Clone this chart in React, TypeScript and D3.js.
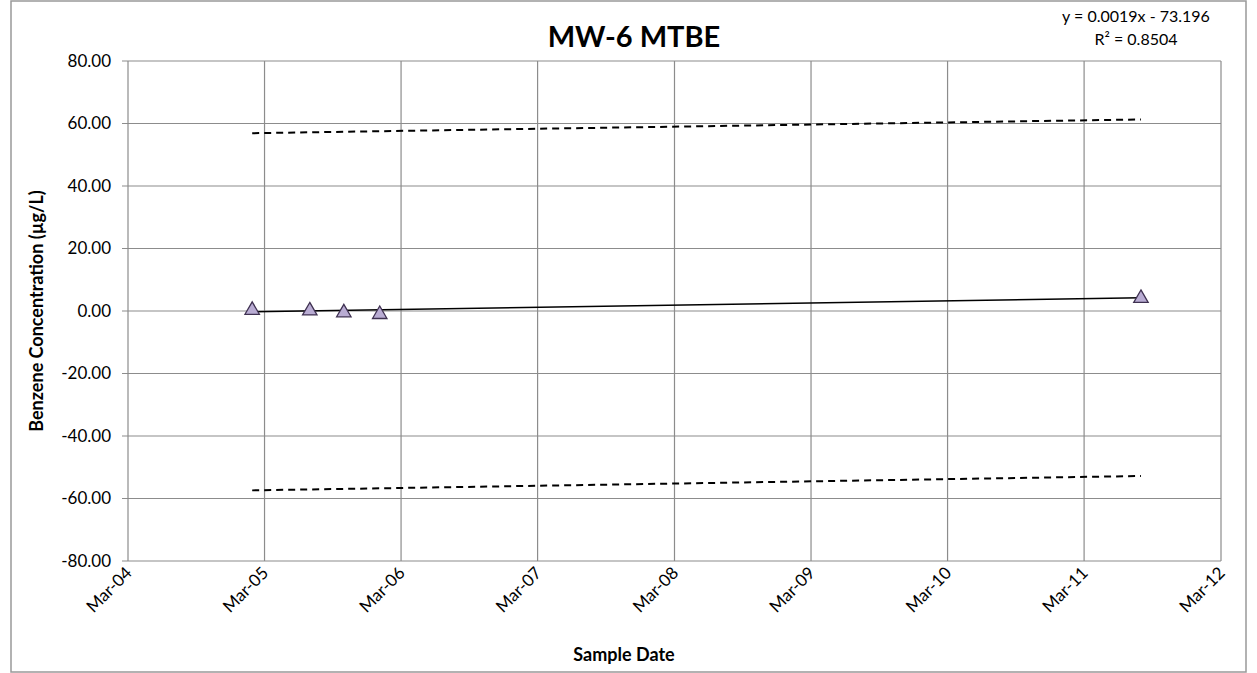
import React from "react";
import * as d3 from "d3";

const sampleDates = ["2005-01-27", "2005-06-30", "2005-09-29", "2006-01-03", "2011-07-31"];
const sampleValues = [0.6, 0.4, -0.2, -0.75, 4.4];
const trendValues = [-0.28, 4.24];
const upperBandValues = [56.9, 61.3];
const lowerBandValues = [-57.4, -52.8];
const xTickDates = ["2004-03-01", "2005-03-01", "2006-03-01", "2007-03-01", "2008-03-01", "2009-03-01", "2010-03-01", "2011-03-01", "2012-03-01"];
const yTicks = [-80, -60, -40, -20, 0, 20, 40, 60, 80];

const FONT = "Lato, 'Open Sans', sans-serif";

export default function App() {
  const W = 1257, H = 673;
  const m = { left: 128, top: 61, right: 1221, bottom: 561 };
  const parse = (s: string) => new Date(s + "T00:00:00");
  const x = d3.scaleTime().domain([parse(xTickDates[0]), parse(xTickDates[xTickDates.length - 1])]).range([m.left, m.right]);
  const y = d3.scaleLinear().domain([-80, 80]).range([m.bottom, m.top]);
  const fmtX = d3.timeFormat("%b-%y");

  const firstD = parse(sampleDates[0]);
  const lastD = parse(sampleDates[sampleDates.length - 1]);
  const line = d3.line<[Date, number]>().x(d => x(d[0])).y(d => y(d[1]));
  const seg = (vals: number[]) => line([[firstD, vals[0]], [lastD, vals[1]]]) || "";
  const tri = d3.symbol().type(d3.symbolTriangle).size(90)();
  const grid = "#8c8c8c";

  return (
    <svg width={W} height={H} style={{ position: "absolute", left: 0, top: 0, background: "#fff" }} fontFamily={FONT}>
      <rect x={11} y={1} width={1235} height={671} fill="#fff" stroke="#999" strokeWidth={1.5} />
      {yTicks.map(t => (
        <g key={"y" + t}>
          <line x1={m.left - 6} x2={m.right} y1={y(t)} y2={y(t)} stroke={grid} strokeWidth={1.2} />
          <text x={111} y={y(t)} dy="0.35em" textAnchor="end" fontSize={17} fill="#000">{t.toFixed(2)}</text>
        </g>
      ))}
      {xTickDates.map(s => {
        const xv = x(parse(s));
        return (
          <g key={s}>
            <line x1={xv} x2={xv} y1={m.top} y2={m.bottom} stroke={grid} strokeWidth={1.2} />
            <text transform={`translate(${xv + 5},${m.bottom + 13}) rotate(-45)`} textAnchor="end" fontSize={17} fill="#000">{fmtX(parse(s))}</text>
          </g>
        );
      })}
      <path d={seg(upperBandValues)} stroke="#000" strokeWidth={2} strokeDasharray="7,5" fill="none" />
      <path d={seg(lowerBandValues)} stroke="#000" strokeWidth={2} strokeDasharray="7,5" fill="none" />
      <path d={seg(trendValues)} stroke="#000" strokeWidth={1.5} fill="none" />
      {sampleDates.map((s, i) => (
        <path key={s} d={tri} transform={`translate(${x(parse(s))},${y(sampleValues[i]) + 1})`} fill="#b9acd3" stroke="#3f3151" strokeWidth={1.3} />
      ))}
      <text x={634} y={47} textAnchor="middle" fontSize={29} fontWeight="bold" fill="#000">MW-6 MTBE</text>
      <text x={1136} y={22} textAnchor="middle" fontSize={16} fill="#000">y = 0.0019x - 73.196</text>
      <text x={1136} y={45} textAnchor="middle" fontSize={16} fill="#000">R² = 0.8504</text>
      <text transform={`translate(43,${(m.top + m.bottom) / 2}) rotate(-90)`} textAnchor="middle" fontSize={18} fontWeight="bold" fill="#000">Benzene Concentration (µg/L)</text>
      <text x={624} y={661} textAnchor="middle" fontSize={18} fontWeight="bold" fill="#000">Sample Date</text>
    </svg>
  );
}
